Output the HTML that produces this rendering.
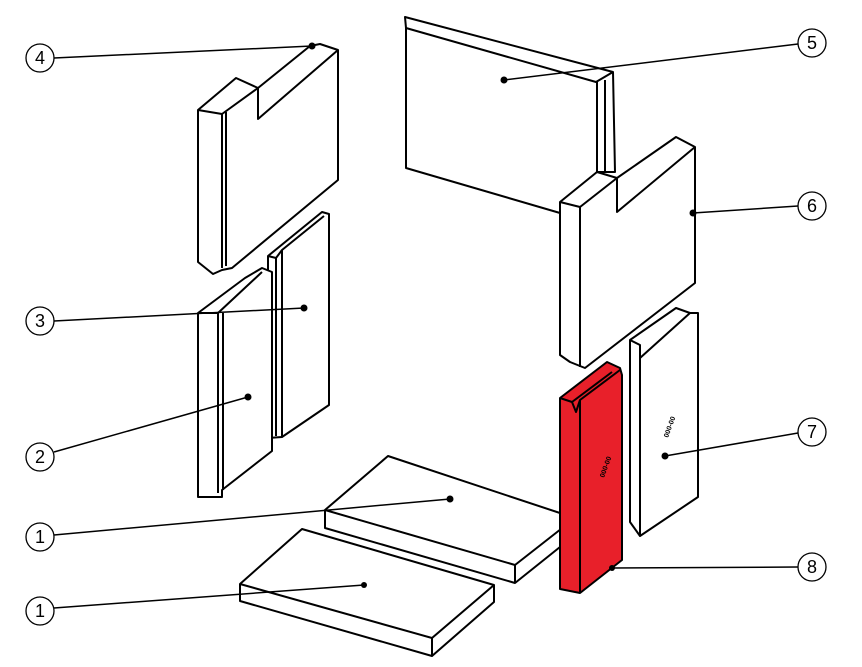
<!DOCTYPE html>
<html><head><style>html,body{margin:0;padding:0;background:#fff}svg{display:block}</style></head>
<body>
<svg width="862" height="667" viewBox="0 0 862 667" xmlns="http://www.w3.org/2000/svg" font-family="Liberation Sans, sans-serif">
<g fill="#fff" stroke="#000" stroke-width="2" stroke-linejoin="round">
<!-- Part 5 -->
<polygon points="405,17 613,72 615,172 605,172 597,172 560,213 406,168 406,28"/>
<polyline fill="none" points="406,28 596,82 613,72"/>
<line x1="597" y1="82" x2="597" y2="172"/><line x1="605" y1="80" x2="605" y2="172"/>
<!-- Part 6 -->
<polygon points="560,202 597,172 617,178 676,137 695,147 695,283 585,368 570,362 560,355"/>
<polyline fill="none" points="560,202 580,207 617,178"/>
<polyline fill="none" points="617,178 617,212 695,147"/>
<line x1="580" y1="207" x2="580" y2="367"/>
<!-- Part 4 -->
<polygon points="198,110 236,78 258,88 310,46 320,44 338,50 338,180 232,268 222,270 213,274 198,262"/>
<polyline fill="none" points="198,110 222,114 258,88"/>
<polyline fill="none" points="258,88 258,119 338,50"/>
<line x1="222" y1="114" x2="222" y2="268"/><line x1="226" y1="112" x2="226" y2="266"/>
<!-- Part 3 -->
<polygon points="268,256 322,212 329,214 329,405 282,437 268,438"/>
<polyline fill="none" points="268,256 276,258 282,250 324,216"/>
<line x1="276" y1="258" x2="276" y2="436"/><line x1="282" y1="250" x2="282" y2="437"/>
<!-- Part 2 -->
<polygon points="198,313 245,278 262,268 272,272 272,451 222,490 222,497 198,497"/>
<polyline fill="none" points="198,313 218,313 262,272"/>
<line x1="218" y1="313" x2="218" y2="493"/><line x1="223" y1="313" x2="223" y2="490"/>
<!-- Part 7 -->
<polygon points="630,340 676,308 690,313 698,313 698,497 640,536 630,522"/>
<polyline fill="none" points="630,340 640,345 640,358 690,313"/>
<line x1="640" y1="358" x2="640" y2="536"/>
<!-- Part 1 upper -->
<polygon points="325,510 388,456 575,518 575,535 515,583 325,528"/>
<polyline fill="none" points="325,510 515,565 575,518"/>
<line x1="515" y1="565" x2="515" y2="583"/>
<!-- Part 1 lower -->
<polygon points="240,584 302,529 494,585 494,602 432,656 240,601"/>
<polyline fill="none" points="240,584 432,638 494,585"/>
<line x1="432" y1="638" x2="432" y2="656"/>
</g>
<!-- Part 8 red -->
<g fill="#e8202a" stroke="#000" stroke-width="2" stroke-linejoin="round">
<polygon points="560,398 607,362 620,368 622,375 622,560 580,593 560,589"/>
<polyline fill="none" points="560,398 572,402 576,412 580,400 620,370"/>
<line x1="580" y1="400" x2="580" y2="593"/>
<polyline fill="none" points="572,402 612,372"/>
</g>
<text x="0" y="0" font-size="7" font-weight="bold" transform="translate(604,478) rotate(-70)">000-00</text>
<text x="0" y="0" font-size="7" font-weight="bold" transform="translate(668,438) rotate(-70)">000-00</text>
<!-- leaders -->
<g stroke="#000" stroke-width="1.5" fill="none">
<line x1="54" y1="58" x2="312" y2="46"/>
<line x1="54" y1="321" x2="304" y2="308"/>
<line x1="54" y1="452" x2="248" y2="397"/>
<line x1="54" y1="535" x2="450" y2="499"/>
<line x1="54" y1="608" x2="364" y2="585"/>
<line x1="798" y1="44" x2="504" y2="80"/>
<line x1="798" y1="206" x2="693" y2="213"/>
<line x1="798" y1="433" x2="665" y2="456"/>
<line x1="798" y1="567" x2="612" y2="568"/>
</g>
<g fill="#000">
<circle cx="312" cy="46" r="3.5"/><circle cx="304" cy="308" r="3.5"/><circle cx="248" cy="397" r="3.5"/>
<circle cx="450" cy="499" r="3.5"/><circle cx="364" cy="585" r="3"/><circle cx="504" cy="80" r="3.5"/>
<circle cx="693" cy="213" r="3.5"/><circle cx="665" cy="456" r="3.5"/><circle cx="612" cy="568" r="3"/>
</g>
<g fill="#fff" stroke="#000" stroke-width="1.3">
<circle cx="40" cy="58" r="14"/><circle cx="40" cy="321" r="14"/><circle cx="40" cy="457" r="14"/>
<circle cx="40" cy="537" r="14"/><circle cx="40" cy="611" r="14"/>
<circle cx="812" cy="43" r="14"/><circle cx="812" cy="206" r="14"/><circle cx="812" cy="432" r="14"/><circle cx="812" cy="567" r="14"/>
</g>
<g font-size="18" text-anchor="middle" fill="#000">
<text x="40" y="64">4</text><text x="40" y="327">3</text><text x="40" y="463">2</text>
<text x="40" y="543">1</text><text x="40" y="617">1</text>
<text x="812" y="49">5</text><text x="812" y="212">6</text><text x="812" y="438">7</text><text x="812" y="573">8</text>
</g>
</svg>
</body></html>
